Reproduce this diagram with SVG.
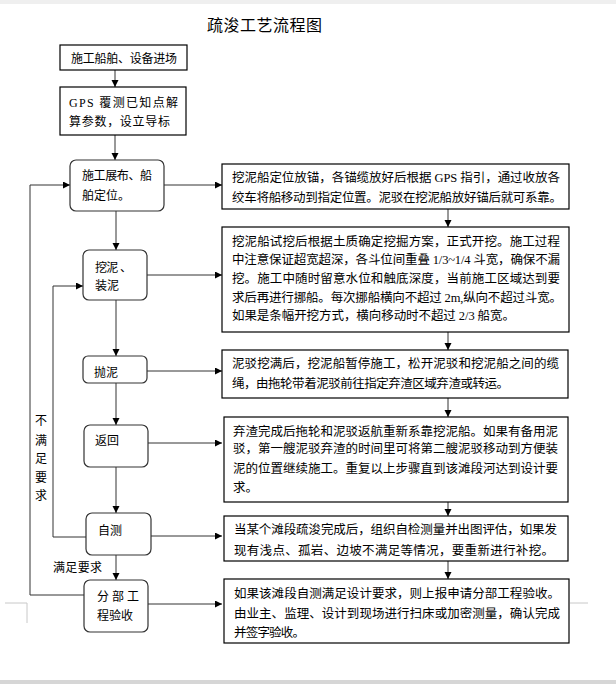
<svg xmlns="http://www.w3.org/2000/svg" width="616" height="684" viewBox="0 0 616 684">
<defs>
<style>
text{font-family:"Liberation Serif","Noto Sans CJK SC","Noto Sans CJK JP",serif;fill:#000}
.t{font-size:12px}
.r{font-size:12.5px}
.title{font-size:16px}
.box{fill:#fff;stroke:#000;stroke-width:1.2}
.rbox{fill:#fff;stroke:#333;stroke-width:1.2}
.con{fill:none;stroke:#333;stroke-width:1}
.mark{fill:none;stroke:#c8c8c8;stroke-width:1}
</style>
<marker id="ah" markerUnits="userSpaceOnUse" markerWidth="8" markerHeight="8" refX="7" refY="3.5" orient="auto">
<path d="M0,0 L7,3.5 L0,7 z" fill="#000"/>
</marker>
</defs>
<rect x="0" y="0" width="616" height="684" fill="#fff"/>
<rect x="0" y="0" width="616" height="4" fill="#efefef"/>
<rect x="0" y="680" width="616" height="4" fill="#d6d6d6"/>
<g id="marks">
<path class="mark" d="M5,603 H27 V623"/>
<path class="mark" d="M570,603 H588"/>
</g>
<text class="title" x="207" y="31" textLength="115">疏浚工艺流程图</text>

<g id="connectors">
<line class="con" x1="115" y1="70" x2="115" y2="87" marker-end="url(#ah)"/>
<line class="con" x1="115" y1="135" x2="115" y2="160" marker-end="url(#ah)"/>
<line class="con" x1="164" y1="185" x2="222" y2="185" marker-end="url(#ah)"/>
<line class="con" x1="448" y1="209" x2="448" y2="227" marker-end="url(#ah)"/>
<line class="con" x1="116" y1="211" x2="116" y2="250" marker-end="url(#ah)"/>
<line class="con" x1="147" y1="275" x2="222" y2="275" marker-end="url(#ah)"/>
<line class="con" x1="448" y1="332" x2="448" y2="350" marker-end="url(#ah)"/>
<line class="con" x1="116" y1="300" x2="116" y2="356" marker-end="url(#ah)"/>
<line class="con" x1="147" y1="371" x2="222" y2="371" marker-end="url(#ah)"/>
<line class="con" x1="448" y1="398" x2="448" y2="417" marker-end="url(#ah)"/>
<line class="con" x1="116" y1="383" x2="116" y2="425" marker-end="url(#ah)"/>
<line class="con" x1="148" y1="443" x2="222" y2="443" marker-end="url(#ah)"/>
<line class="con" x1="448" y1="502" x2="448" y2="516" marker-end="url(#ah)"/>
<line class="con" x1="116" y1="467" x2="116" y2="513" marker-end="url(#ah)"/>
<line class="con" x1="151" y1="536" x2="222" y2="536" marker-end="url(#ah)"/>
<line class="con" x1="448" y1="561" x2="448" y2="579" marker-end="url(#ah)"/>
<line class="con" x1="116" y1="555" x2="116" y2="580" marker-end="url(#ah)"/>
<line class="con" x1="148" y1="604" x2="222" y2="604" marker-end="url(#ah)"/>
<path class="con" d="M86,537 H53 V286 H83" marker-end="url(#ah)"/>
<path class="con" d="M84,595 H30 V185 H70" marker-end="url(#ah)"/>
<g id="loop-labels">
<text class="t" x="35" y="425">不</text>
<text class="t" x="35" y="445">满</text>
<text class="t" x="35" y="463">足</text>
<text class="t" x="35" y="482">要</text>
<text class="t" x="35" y="500">求</text>
<text class="t" x="53" y="572" textLength="49">满足要求</text>
</g>
</g>

<g id="n1">
<rect class="box" x="60" y="45" width="127" height="25"/>
<text class="t" x="71" y="62.5" textLength="106">施工船舶、设备进场</text>
</g>
<g id="n2">
<rect class="box" x="60" y="87" width="126" height="48"/>
<text class="t" x="69" y="106.5" textLength="109">GPS 覆测已知点解</text>
<text class="t" x="69" y="125.5" textLength="101">算参数，设立导标</text>
</g>
<g id="n3">
<rect class="rbox" x="70" y="160" width="94" height="51" rx="6"/>
<text class="t" x="82" y="179.5" textLength="70">施工展布、船</text>
<text class="t" x="82" y="199.5">舶定位。</text>
</g>
<g id="n4">
<rect class="rbox" x="83" y="250" width="64" height="50" rx="6"/>
<text class="t" x="95" y="271.5" textLength="37">挖泥 、</text>
<text class="t" x="95" y="289.5">装泥</text>
</g>
<g id="n5">
<rect class="rbox" x="83" y="356" width="64" height="27" rx="5"/>
<text class="t" x="94" y="376.5">抛泥</text>
</g>
<g id="n6">
<rect class="rbox" x="84" y="425" width="64" height="42" rx="6"/>
<text class="t" x="95" y="444.5">返回</text>
</g>
<g id="n7">
<rect class="rbox" x="86" y="513" width="65" height="42" rx="6"/>
<text class="t" x="98" y="534.5">自测</text>
</g>
<g id="n8">
<rect class="rbox" x="84" y="580" width="64" height="52" rx="6"/>
<text class="t" x="97" y="600.5" textLength="42">分 部 工</text>
<text class="t" x="97" y="619.5">程验收</text>
</g>

<g id="r1">
<rect class="box" x="222" y="164" width="347" height="45"/>
<text class="r" x="232" y="181.5" textLength="328">挖泥船定位放锚，各锚缆放好后根据 GPS 指引，通过收放各</text>
<text class="r" x="232" y="201.5" textLength="330">绞车将船移动到指定位置。泥驳在挖泥船放好锚后就可系靠。</text>
</g>
<g id="r2">
<rect class="box" x="222" y="227" width="347" height="105"/>
<text class="r" x="232" y="245.5" textLength="328">挖泥船试挖后根据土质确定挖掘方案，正式开挖。施工过程</text>
<text class="r" x="232" y="263.5" textLength="328">中注意保证超宽超深，各斗位间重叠 1/3~1/4 斗宽，确保不漏</text>
<text class="r" x="232" y="282.5" textLength="328">挖。施工中随时留意水位和触底深度，当前施工区域达到要</text>
<text class="r" x="232" y="301.5" textLength="330">求后再进行挪船。每次挪船横向不超过 2m,纵向不超过斗宽。</text>
<text class="r" x="232" y="319.5" textLength="283">如果是条幅开挖方式，横向移动时不超过 2/3 船宽。</text>
</g>
<g id="r3">
<rect class="box" x="222" y="350" width="346" height="48"/>
<text class="r" x="232" y="367.5" textLength="327">泥驳挖满后，挖泥船暂停施工，松开泥驳和挖泥船之间的缆</text>
<text class="r" x="232" y="387.5" textLength="277">绳，由拖轮带着泥驳前往指定弃渣区域弃渣或转运。</text>
</g>
<g id="r4">
<rect class="box" x="224" y="417" width="344" height="85"/>
<text class="r" x="233" y="435.5" textLength="325">弃渣完成后拖轮和泥驳返航重新系靠挖泥船。如果有备用泥</text>
<text class="r" x="233" y="452.5" textLength="325">驳，第一艘泥驳弃渣的时间里可将第二艘泥驳移动到方便装</text>
<text class="r" x="233" y="472.5" textLength="325">泥的位置继续施工。重复以上步骤直到该滩段河达到设计要</text>
<text class="r" x="233" y="491.5">求。</text>
</g>
<g id="r5">
<rect class="box" x="224" y="516" width="344" height="45"/>
<text class="r" x="234" y="533.5" textLength="323">当某个滩段疏浚完成后，组织自检测量并出图评估，如果发</text>
<text class="r" x="234" y="554.5" textLength="320">现有浅点、孤岩、边坡不满足等情况，要重新进行补挖。</text>
</g>
<g id="r6">
<rect class="box" x="224" y="579" width="345" height="64"/>
<text class="r" x="234" y="597.5" textLength="326">如果该滩段自测满足设计要求，则上报申请分部工程验收。</text>
<text class="r" x="234" y="617.5" textLength="326">由业主、监理、设计到现场进行扫床或加密测量，确认完成</text>
<text class="r" x="234" y="636.5" textLength="71">并签字验收。</text>
</g>
</svg>
